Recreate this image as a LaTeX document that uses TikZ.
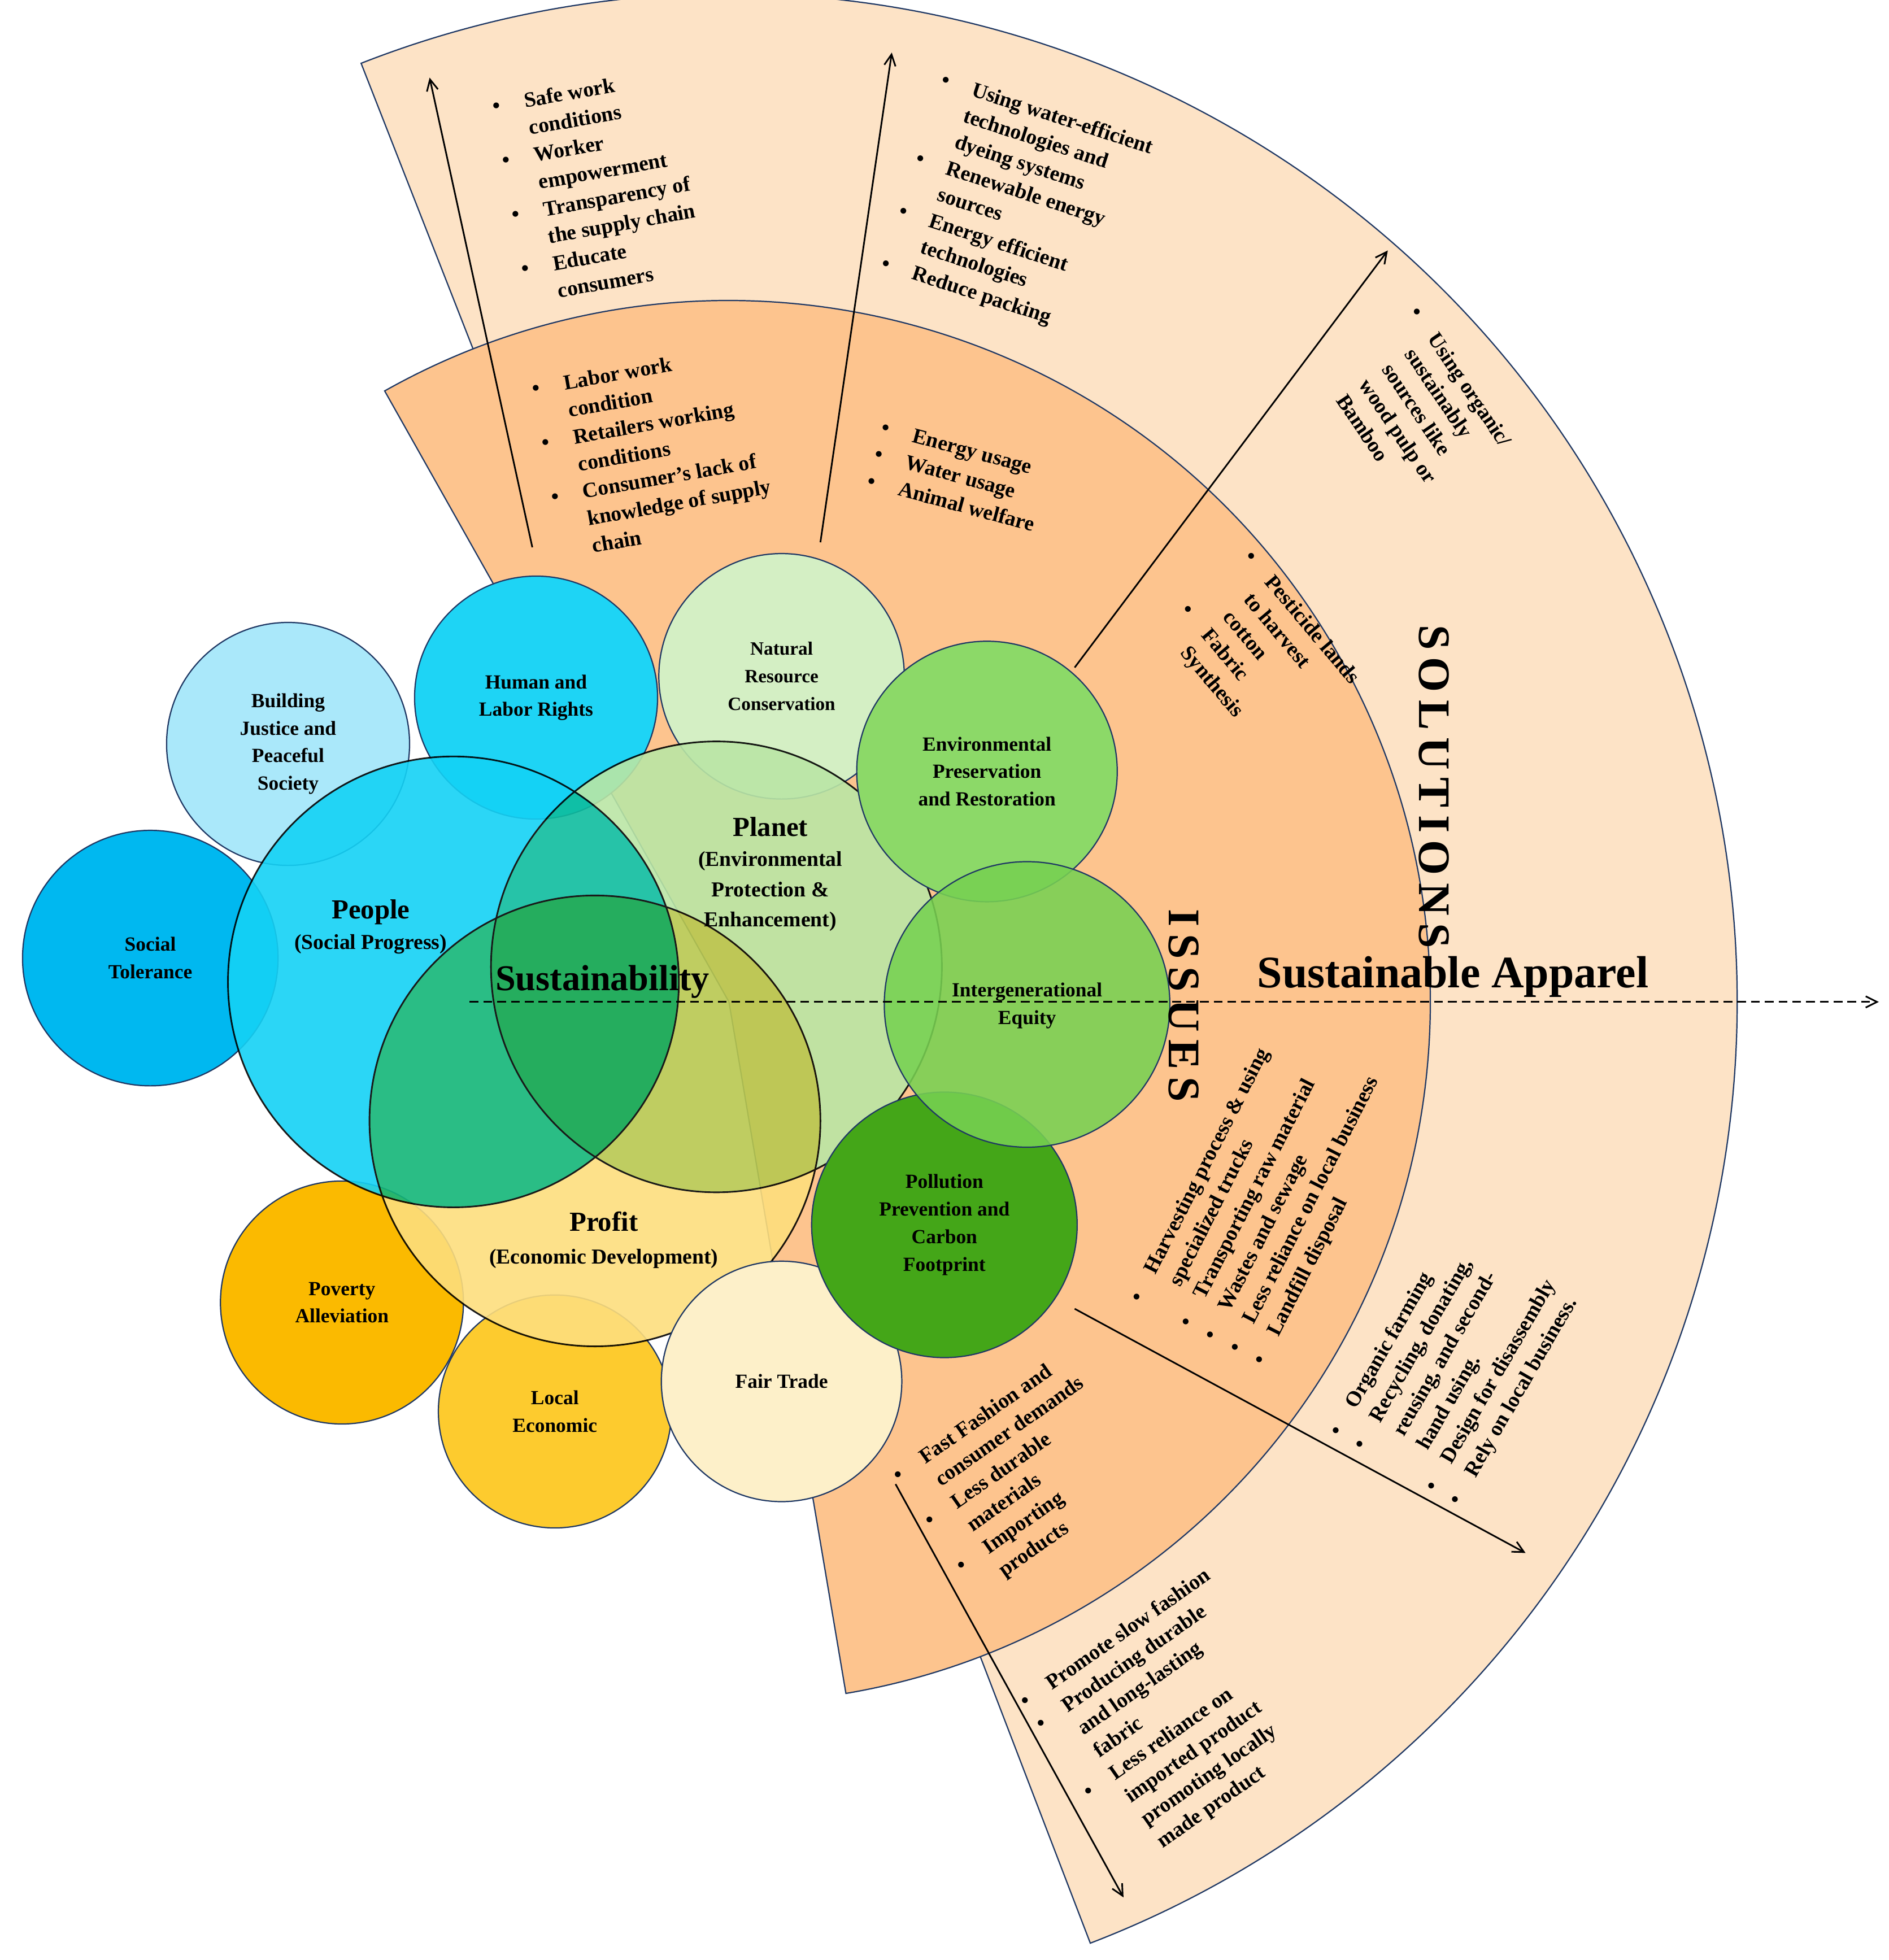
\documentclass[tikz,border=0pt]{standalone}
\usepackage{fontspec}
\setmainfont{Liberation Serif}
\usetikzlibrary{arrows.meta}
\definecolor{lightsec}{RGB}{253,227,198}
\definecolor{orsec}{RGB}{253,196,142}
\definecolor{navy}{RGB}{31,56,100}
\definecolor{cJust}{RGB}{170,232,250}
\definecolor{cTol}{RGB}{0,184,240}
\definecolor{cHum}{RGB}{30,212,245}
\definecolor{cNat}{RGB}{212,239,196}
\definecolor{cEnv}{RGB}{140,217,104}
\definecolor{cInt}{RGB}{119,209,82}
\definecolor{cPol}{RGB}{68,166,24}
\definecolor{cFair}{RGB}{253,240,201}
\definecolor{cLoc}{RGB}{253,203,46}
\definecolor{cPov}{RGB}{251,186,0}
\definecolor{cPeople}{RGB}{20,210,245}
\definecolor{cPlanet}{RGB}{186,230,165}
\definecolor{cProfit}{RGB}{253,222,125}
\newcommand\itm{\makebox[1.5em][l]{\textbullet}}
\newcommand\ind{\hspace*{1.5em}}
\begin{document}
\begin{tikzpicture}[x=1pt,y=-1pt,
  sc/.style={circle,draw=navy,line width=1pt,inner sep=0pt,align=center,font=\bfseries\fontsize{16}{22}\selectfont},
  big/.style={circle,draw=black,line width=1.3pt,inner sep=0pt},
  lst/.style={align=left,font=\bfseries\fontsize{17}{22}\selectfont,inner sep=0pt},
  arr/.style={-{Straight Barb[length=9pt,width=9pt]},line width=1.3pt}]
\useasboundingbox (0,0) rectangle (1508,1565);
% sectors
\coordinate (C) at (582,800);
\filldraw[fill=lightsec,draw=navy,line width=1pt] (C) -- ++(-111.4:805) arc[start angle=-111.4,end angle=69,radius=805] -- cycle;
\filldraw[fill=orsec,draw=navy,line width=1pt] (C) -- ++(-119.4:560) arc[start angle=-119.4,end angle=80.4,radius=560] -- cycle;
% arrows
\coordinate (a1s) at (425,437); \coordinate (a1e) at (343,62);
\coordinate (a2s) at (655,433); \coordinate (a2e) at (712,42);
\coordinate (a3s) at (858,533); \coordinate (a3e) at (1108,200);
\coordinate (a4s) at (858,1045); \coordinate (a4e) at (1218,1240);
\coordinate (a5s) at (715,1185); \coordinate (a5e) at (897,1515);
\draw[arr] (a1s) -- (a1e);
\draw[arr] (a2s) -- (a2e);
\draw[arr] (a3s) -- (a3e);
\draw[arr] (a4s) -- (a4e);
\draw[arr] (a5s) -- (a5e);
% lists
\node[lst,rotate=10] (l1) at (478,148) {\itm Safe work\\\ind conditions\\\itm Worker\\\ind empowerment\\\itm Transparency of\\\ind the supply chain\\\itm Educate\\\ind consumers};
\node[lst,rotate=-18] (l2) at (812,165) {\itm Using water-efficient\\\ind technologies and\\\ind dyeing systems\\\itm Renewable energy\\\ind sources\\\itm Energy efficient\\\ind technologies\\\itm Reduce packing};
\node[lst,rotate=-56] (l3) at (1130,325) {\itm Using organic/\\\ind sustainably\\\ind sources like\\\ind wood pulp or\\\ind Bamboo};
\node[lst,rotate=10] (l4) at (522,360) {\itm Labor work\\\ind condition\\\itm Retailers working\\\ind conditions\\\itm Consumer’s lack of\\\ind knowledge of supply\\\ind chain};
\node[lst,rotate=-15] (l5) at (765,380) {\itm Energy usage\\\itm Water usage\\\itm Animal welfare};
\node[lst,rotate=-50] (l6) at (1005,522) {\itm Pesticide lands\\\ind to harvest\\\ind cotton\\\itm Fabric\\\ind Synthesis};
\node[lst,rotate=63] (l7) at (1012,955) {\itm Harvesting process \& using\\\ind specialized trucks\\\itm Transporting raw material\\\itm Wastes and sewage\\\itm Less reliance on local business\\\itm Landfill disposal};
\node[lst,rotate=60] (l8) at (1162,1090) {\itm Organic farming\\\itm Recycling, donating,\\\ind reusing, and second-\\\ind hand using.\\\itm Design for disassembly\\\itm Rely on local business.};
\node[lst,rotate=35] (l9) at (815,1178) {\itm Fast Fashion and\\\ind consumer demands\\\itm Less durable\\\ind materials\\\itm Importing\\\ind products};
\node[lst,rotate=35] (l10) at (935,1372) {\itm Promote slow fashion\\\itm Producing durable\\\ind and long-lasting\\\ind fabric\\\itm Less reliance on\\\ind imported product\\\ind promoting locally\\\ind made product};
% dashed axis
\coordinate (ds) at (375,800); \coordinate (de) at (1500,800);
% left small circles
\node[sc,fill=cJust,minimum size=194pt] (just) at (230,594) {Building\\Justice and\\Peaceful\\Society};
\node[sc,fill=cTol,minimum size=204pt] (tol) at (120,765) {Social\\Tolerance};
\node[sc,fill=cHum,minimum size=194pt] (hum) at (428,557) {Human and\\Labor Rights};
\node[sc,fill=cNat,minimum size=196pt] (nat) at (624,540) {\fontsize{15}{22}\selectfont Natural\\\fontsize{15}{22}\selectfont Resource\\\fontsize{15}{22}\selectfont Conservation};
\node[sc,fill=cPov,minimum size=194pt] (pov) at (273,1040) {Poverty\\Alleviation};
\node[sc,fill=cLoc,minimum size=186pt] (loc) at (443,1127) {Local\\Economic};
% big circles
\begin{scope}[transparency group,opacity=0.9]
\node[big,fill=cPeople,minimum size=360pt] (people) at (362,784) {};
\node[big,fill=cPlanet,minimum size=360pt,blend mode=multiply] (planet) at (572,772) {};
\node[big,fill=cProfit,minimum size=360pt,blend mode=multiply] (profit) at (475,895) {};
\end{scope}
\node[sc,fill=cFair,minimum size=192pt] (fair) at (624,1103) {Fair Trade};
\node[sc,fill=cPol,minimum size=212pt] (pol) at (754,978) {Pollution\\Prevention and\\Carbon\\Footprint};
\node[sc,fill=cEnv,minimum size=208pt] (env) at (788,616) {Environmental\\Preservation\\and Restoration};
\node[sc,fill=cInt,minimum size=228pt,fill opacity=0.88,text opacity=1] (int) at (820,802) {};
\draw[dash pattern=on 7pt off 4pt,-{Straight Barb[length=9pt,width=9pt]},line width=1.3pt] (ds) -- (de);
\node[font=\bfseries\fontsize{16}{22}\selectfont,align=center] (intt) at (820,803) {Intergenerational\\Equity};
% big circle labels
\node[align=center,font=\bfseries\fontsize{17}{24}\selectfont] (pl) at (296,740) {{\fontsize{22}{26}\selectfont People}\\(Social Progress)};
\node[align=center,font=\bfseries\fontsize{17}{24}\selectfont] (pll) at (615,698) {{\fontsize{22}{26}\selectfont Planet}\\(Environmental\\Protection \&\\Enhancement)};
\node[align=center,font=\bfseries\fontsize{17}{26}\selectfont] (prl) at (482,990) {{\fontsize{22}{26}\selectfont Profit}\\(Economic Development)};
\node[font=\bfseries\fontsize{29}{32}\selectfont] (sus) at (481,784) {Sustainability};
\node[font=\bfseries\fontsize{36}{38}\selectfont] (app) at (1160,780) {Sustainable Apparel};
\node[font=\bfseries\fontsize{36}{38}\selectfont,rotate=-90] (iss) at (945,803) {I\,S\,S\,U\,E\,S};
\node[font=\bfseries\fontsize{36}{38}\selectfont,rotate=-90] (sol) at (1145,628) {S\,O\,L\,U\,T\,I\,O\,N\,S};
\end{tikzpicture}
\end{document}
